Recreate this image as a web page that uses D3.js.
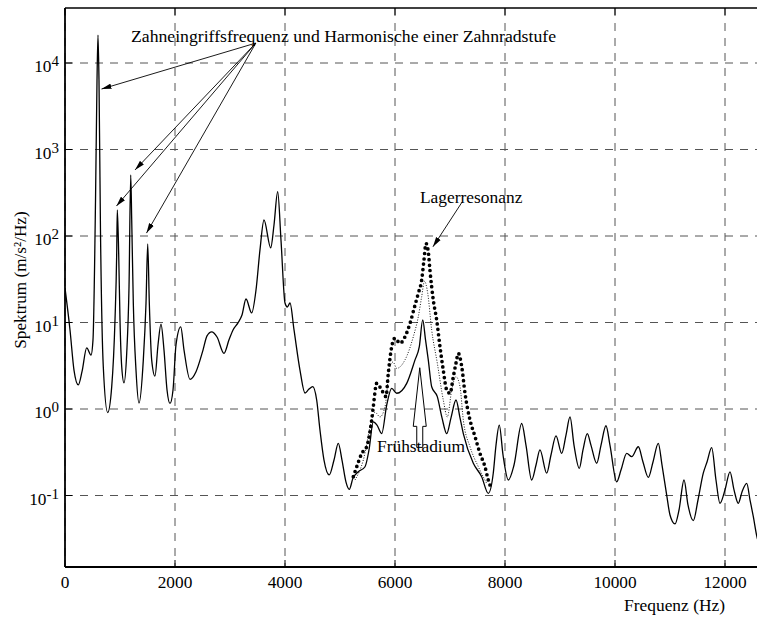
<!DOCTYPE html>
<html>
<head>
<meta charset="utf-8">
<script src="https://cdn.jsdelivr.net/npm/d3@7/dist/d3.min.js"></script>
<style>
  html, body { margin: 0; padding: 0; background: #fff; }
  svg { display: block; }
  text { font-family: "Liberation Serif", "Times New Roman", serif; fill: #000; }
</style>
</head>
<body>
<svg id="chart" width="757" height="617"></svg>
<script>
// ---------- data ----------
const xTicks = [0, 2000, 4000, 6000, 8000, 10000, 12000];
const yTickExponents = [-1, 0, 1, 2, 3, 4];

// gear mesh spectrum (solid line): [frequency Hz, spectrum m/s²/Hz]
const spectrumSolid = [
  [0,25],[91,8.2],[164,2.8],[242,1.9],[309,2.7],[395,5.1],[473,4.2],[509,6.3],[555,260],[582,6300],[600,21000],[618,6300],[645,117],[696,3.1],[776,0.91],
  [849,1.8],[909,10.7],[940,63],[951,200],[976,63],[1000,10.7],[1031,3.1],[1073,2.0],[1122,4.4],[1164,26],[1195,507],[1213,153],[1242,16.8],[1291,2.8],[1345,1.17],
  [1424,3.7],[1473,16.8],[1504,81],[1533,16.8],[1576,3.7],[1636,2.4],[1691,5.5],[1745,9.6],[1800,4.8],[1855,1.66],[1909,1.16],[1964,1.66],[2018,5.5],[2104,8.9],
  [2164,4.8],[2273,2.2],[2382,2.7],[2509,4.8],[2582,7.0],[2667,7.8],[2764,6.8],[2891,4.4],[2982,6.3],[3055,8.2],[3145,9.9],[3218,12.2],[3291,18.7],[3394,12.9],
  [3473,23.8],[3545,69],[3618,153],[3740,73],[3800,134],[3867,325],[3927,90],[4000,16.8],[4042,15.1],[4091,16.8],[4164,8.2],[4273,2.8],[4364,1.53],[4436,1.70],
  [4504,1.81],[4576,1.27],[4636,0.57],[4709,0.257],[4805,0.173],[4891,0.257],[4969,0.40],[5036,0.257],[5109,0.143],[5169,0.118],[5236,0.159],[5327,0.187],
  [5455,0.215],[5527,0.336],[5605,0.71],[5673,0.65],[5758,0.52],[5849,1.11],[5940,1.73],[6031,1.52],[6213,1.98],[6364,3.7],[6442,5.25],[6504,10.7],[6555,6.3],
  [6605,3.7],[6667,1.81],[6769,1.39],[6855,0.79],[6940,0.52],[7018,0.79],[7109,1.27],[7182,0.79],[7242,0.52],[7424,0.236],[7576,0.165],[7696,0.106],[7787,0.182],
  [7836,0.38],[7896,0.65],[7964,0.294],[8060,0.151],[8164,0.225],[8304,0.68],[8382,0.38],[8485,0.151],[8564,0.225],[8636,0.336],[8758,0.181],[8836,0.294],
  [8927,0.49],[9031,0.307],[9109,0.50],[9182,0.81],[9255,0.38],[9351,0.206],[9418,0.336],[9496,0.52],[9564,0.38],[9667,0.236],[9745,0.38],[9836,0.64],[9909,0.38],
  [10031,0.144],[10109,0.197],[10213,0.307],[10304,0.281],[10424,0.366],[10509,0.244],[10605,0.162],[10691,0.244],[10787,0.40],[10855,0.225],[10940,0.101],
  [11000,0.0595],[11091,0.0469],[11164,0.068],[11255,0.151],[11327,0.0777],[11424,0.0512],[11509,0.0887],[11605,0.181],[11673,0.244],[11758,0.357],[11836,0.151],
  [11909,0.0813],[12000,0.116],[12091,0.188],[12164,0.116],[12242,0.0813],[12309,0.11],[12395,0.138],[12455,0.0887],[12515,0.0569],[12582,0.0331],[12640,0.026]
];

// bearing resonance, advanced damage (large dots)
const resonanceDots = [
  [5242,0.165],[5315,0.225],[5395,0.307],[5485,0.366],[5576,0.746],[5605,1.06],[5667,1.98],[5758,1.66],[5836,1.39],[5878,2.59],[5940,5.25],[6000,6.6],
  [6091,5.75],[6182,6.85],[6273,9.8],[6364,15.9],[6424,21.8],[6485,31],[6527,53],[6564,82],[6605,66],[6636,40],[6696,18.2],[6758,10.7],[6818,5.25],
  [6878,2.8],[6940,1.66],[7000,1.52],[7060,2.36],[7109,3.4],[7151,4.4],[7213,3.1],[7273,1.52],[7364,0.746],[7455,0.48],[7545,0.307],[7636,0.215],[7696,0.151],[7727,0.132]
];

// bearing resonance, intermediate (fine dotted)
const resonanceFine = [
  [5273,0.151],[5424,0.257],[5576,0.746],[5636,0.92],[5727,0.81],[5818,1.06],[5909,3.1],[5964,3.5],[6031,2.95],[6182,3.7],[6333,6.85],[6424,11.7],
  [6485,19.9],[6536,30],[6595,21.8],[6667,8.2],[6769,3.4],[6878,1.27],[6951,0.81],[7031,1.66],[7109,2.36],[7182,1.81],[7242,0.746],[7364,0.366],
  [7515,0.215],[7667,0.138]
];

// annotation anchors (data coordinates)
const gearAnnotationFrom = [3470, 17000];
const gearAnnotationTargets = [[664, 5000], [1273, 580], [936, 222], [1482, 108]];
const lagerFrom = [7220, 247];
const lagerTo = [6690, 75];

// ---------- layout ----------
const svg = d3.select("#chart");
const plotLeft = 65, plotTop = 8, plotBottom = 567, plotRight = 757;

const x = d3.scaleLinear().domain([0, 12000]).range([65, 725]);
const y = d3.scaleLog().domain([0.1, 1e4]).range([495.5, 63]);

const defs = svg.append("defs");
defs.append("clipPath").attr("id", "plotclip")
  .append("rect").attr("x", plotLeft).attr("y", plotTop).attr("width", plotRight - plotLeft).attr("height", plotBottom - plotTop);
defs.append("marker").attr("id", "arr").attr("markerUnits", "userSpaceOnUse")
  .attr("markerWidth", 11).attr("markerHeight", 6).attr("refX", 10).attr("refY", 3)
  .attr("orient", "auto")
  .append("path").attr("d", "M0,0.3 L10,3 L0,5.7 z").attr("fill", "#000");

// grid
const grid = svg.append("g");
xTicks.forEach(t => {
  grid.append("line").attr("x1", x(t)).attr("x2", x(t)).attr("y1", plotTop).attr("y2", plotBottom)
    .attr("stroke", "#555").attr("stroke-width", 1).attr("stroke-dasharray", "8,7");
});
yTickExponents.forEach(e => {
  grid.append("line").attr("x1", plotLeft).attr("x2", plotRight).attr("y1", y(Math.pow(10, e))).attr("y2", y(Math.pow(10, e)))
    .attr("stroke", "#555").attr("stroke-width", 1).attr("stroke-dasharray", "8,7");
});

// curves
const plot = svg.append("g").attr("clip-path", "url(#plotclip)");
const line = d3.line().x(d => x(d[0])).y(d => y(d[1])).curve(d3.curveMonotoneX);

plot.append("path").datum(resonanceFine).attr("d", line)
  .attr("fill", "none").attr("stroke", "#000").attr("stroke-width", 0.9).attr("stroke-dasharray", "1,1.6");
plot.append("path").datum(spectrumSolid).attr("d", line)
  .attr("fill", "none").attr("stroke", "#000").attr("stroke-width", 1.3).attr("stroke-linejoin", "round");
plot.append("path").datum(resonanceDots).attr("d", line)
  .attr("fill", "none").attr("stroke", "#000").attr("stroke-width", 3.7)
  .attr("stroke-linecap", "round").attr("stroke-dasharray", "0,5.4");

// axes frame
svg.append("line").attr("x1", plotLeft).attr("x2", plotRight).attr("y1", plotTop).attr("y2", plotTop).attr("stroke", "#000").attr("stroke-width", 1.6);
svg.append("line").attr("x1", plotLeft).attr("x2", plotLeft).attr("y1", plotTop).attr("y2", plotBottom).attr("stroke", "#000").attr("stroke-width", 1.8);
svg.append("line").attr("x1", plotLeft).attr("x2", plotRight).attr("y1", plotBottom).attr("y2", plotBottom).attr("stroke", "#000").attr("stroke-width", 1.8);

// ticks (inward)
xTicks.forEach(t => {
  svg.append("line").attr("x1", x(t)).attr("x2", x(t)).attr("y1", plotTop).attr("y2", plotTop + 7).attr("stroke", "#000").attr("stroke-width", 1);
  svg.append("line").attr("x1", x(t)).attr("x2", x(t)).attr("y1", plotBottom).attr("y2", plotBottom - 7).attr("stroke", "#000").attr("stroke-width", 1);
});
yTickExponents.forEach(e => {
  svg.append("line").attr("x1", plotLeft).attr("x2", plotLeft + 7).attr("y1", y(Math.pow(10, e))).attr("y2", y(Math.pow(10, e))).attr("stroke", "#000").attr("stroke-width", 1);
});

// tick labels
xTicks.forEach(t => {
  svg.append("text").attr("x", x(t)).attr("y", 588).attr("text-anchor", "middle")
    .attr("font-size", 17.3).text(t);
});
yTickExponents.forEach(e => {
  const tx = svg.append("text").attr("x", 59).attr("y", y(Math.pow(10, e)) + 9).attr("text-anchor", "end").attr("font-size", 17.3);
  tx.append("tspan").text("10");
  tx.append("tspan").attr("dy", -6).attr("font-size", 15).text(String(e));
});

// axis titles
svg.append("text").attr("x", 725).attr("y", 611).attr("text-anchor", "end").attr("font-size", 17.4).text("Frequenz (Hz)");
svg.append("text").attr("transform", "translate(26,280) rotate(-90)").attr("text-anchor", "middle").attr("font-size", 17.2)
  .text("Spektrum (m/s²/Hz)");

// annotations
svg.append("text").attr("x", 131).attr("y", 42).attr("font-size", 17.7)
  .text("Zahneingriffsfrequenz und Harmonische einer Zahnradstufe");
const fromPx = [x(gearAnnotationFrom[0]), y(gearAnnotationFrom[1])];
gearAnnotationTargets.forEach(tg => {
  svg.append("line").attr("x1", fromPx[0]).attr("y1", fromPx[1]).attr("x2", x(tg[0])).attr("y2", y(tg[1]))
    .attr("stroke", "#000").attr("stroke-width", 0.9).attr("marker-end", "url(#arr)");
});

svg.append("text").attr("x", 420).attr("y", 203).attr("font-size", 17.4).text("Lagerresonanz");
svg.append("line").attr("x1", x(lagerFrom[0])).attr("y1", y(lagerFrom[1])).attr("x2", x(lagerTo[0])).attr("y2", y(lagerTo[1]))
  .attr("stroke", "#000").attr("stroke-width", 0.9).attr("marker-end", "url(#arr)");

// hollow up arrow "Frühstadium"
const ax = x(6450), aTip = y(3.0), aBase = y(0.36), aHead = y(0.63);
svg.append("path")
  .attr("d", `M${ax-3},${aBase} L${ax+3},${aBase} L${ax+3},${aHead} L${ax+6.5},${aHead} L${ax},${aTip} L${ax-6.5},${aHead} L${ax-3},${aHead} Z`)
  .attr("fill", "#fff").attr("stroke", "#000").attr("stroke-width", 1);
svg.append("text").attr("x", 377).attr("y", 452).attr("font-size", 17.4).text("Frühstadium");
</script>
</body>
</html>
